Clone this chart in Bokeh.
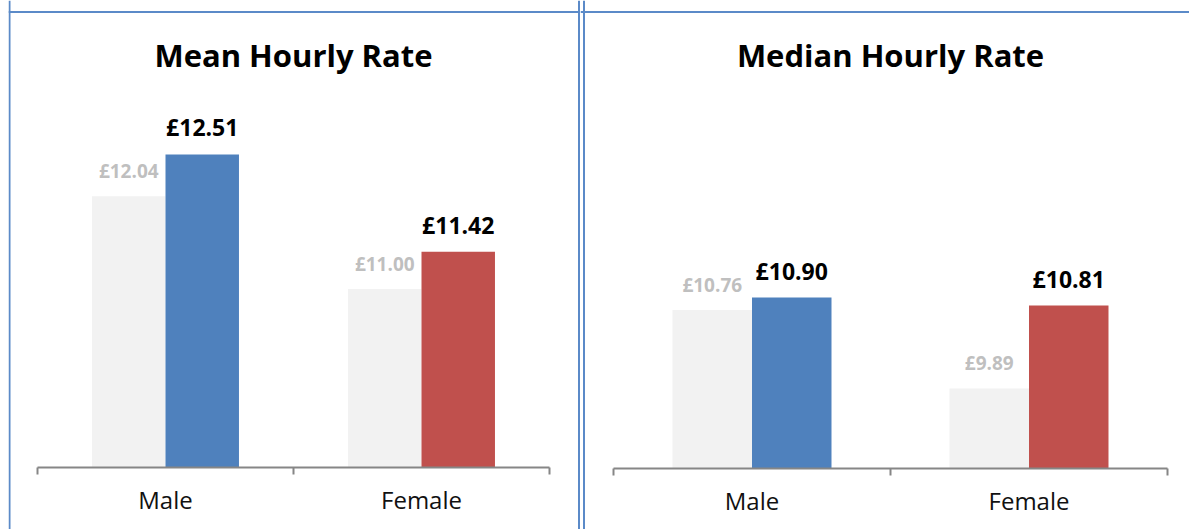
from bokeh.plotting import figure
from bokeh.models import Range1d, LinearAxis, FixedTicker, Span, ColumnDataSource, Spacer
from bokeh.layouts import row
from bokeh.embed import file_html
from bokeh.resources import INLINE
from bokeh.core.properties import value

# ---- data ----
categories = ["Male", "Female"]
mean_previous = [12.04, 11.00]
mean_current = [12.51, 11.42]
median_previous = [10.76, 9.89]
median_current = [10.90, 10.81]
current_colors = ["#4F81BD", "#C0504D"]
titles = ["Mean Hourly Rate", "Median Hourly Rate"]
axis_min = 9.0

FONT = value("Open Sans")
BORDER = "#5B8AC8"
HEIGHT = 529


def panel(title, prev, curr, width, x0_px, xs, base_px, ys, borders):
    x_start = -x0_px / xs
    x_end = x_start + width / xs
    y_start = axis_min - (HEIGHT - base_px) / ys
    y_end = axis_min + base_px / ys
    p = figure(width=width, height=HEIGHT,
               x_range=Range1d(x_start, x_end), y_range=Range1d(y_start, y_end),
               output_backend="svg", toolbar_location=None,
               x_axis_location=None, y_axis_location=None, min_border=0)
    p.min_border_left = p.min_border_right = 0
    p.min_border_top = p.min_border_bottom = 0
    p.outline_line_color = None
    p.xgrid.visible = False
    p.ygrid.visible = False
    p.background_fill_color = "white"
    p.border_fill_color = "white"

    n = len(categories)
    centers = [i + 0.5 for i in range(n)]
    bw = 0.287
    src = ColumnDataSource(dict(
        xp=[c - bw / 2 for c in centers],
        xc=[c + bw / 2 for c in centers],
        prev=prev, curr=curr, color=current_colors,
        prev_lbl=[f"£{v:.2f}" for v in prev],
        curr_lbl=[f"£{v:.2f}" for v in curr],
    ))
    p.vbar(x="xp", top="prev", bottom=axis_min, width=bw,
           fill_color="#F2F2F2", line_color=None, source=src)
    p.vbar(x="xc", top="curr", bottom=axis_min, width=bw,
           fill_color="color", line_color=None, source=src)
    p.text(x="xp", y="prev", text="prev_lbl", source=src, y_offset=-25,
           text_align="center", text_baseline="alphabetic",
           text_font=FONT, text_font_style="bold", text_font_size="19px",
           text_color="#BFBFBF")
    p.text(x="xc", y="curr", text="curr_lbl", source=src, y_offset=-27,
           text_align="center", text_baseline="alphabetic",
           text_font=FONT, text_font_style="bold", text_font_size="23px",
           text_color="#000000")

    # title
    p.text(x=[n / 2], y=[y_end], text=[title], y_offset=54,
           text_align="center", text_baseline="alphabetic",
           text_font=FONT, text_font_style="bold", text_font_size="31px",
           text_color="#000000")

    ax = LinearAxis(ticker=FixedTicker(ticks=centers, minor_ticks=list(range(n + 1))),
                    fixed_location=axis_min, bounds=(0, n))
    ax.major_label_overrides = {c: lab for c, lab in zip(centers, categories)}
    ax.major_tick_in = 0
    ax.major_tick_out = 0
    ax.minor_tick_in = 0
    ax.minor_tick_out = 7
    ax.minor_tick_line_color = "#868686"
    ax.minor_tick_line_width = 2
    ax.axis_line_color = "#868686"
    ax.axis_line_width = 2
    ax.major_label_standoff = 8
    ax.major_label_text_font = "Open Sans"
    ax.major_label_text_font_size = "24px"
    ax.major_label_text_color = "#111111"
    p.add_layout(ax, "below")

    for kind, px in borders:
        if kind == "v":
            loc = x_start + px / xs
            p.add_layout(Span(location=loc, dimension="height",
                              line_color=BORDER, line_width=2))
        else:
            loc = y_end - px / ys
            p.add_layout(Span(location=loc, dimension="width",
                              line_color=BORDER, line_width=2))
    return p


p1 = panel(titles[0], mean_previous, mean_current, 572, 29, 256, 467, 89.2,
           [("v", 1), ("h", 11.5), ("v", 570.5)])
p2 = panel(titles[1], median_previous, median_current, 609, 33, 277, 468, 90,
           [("v", 3.5), ("h", 11.5)])

layout = row(Spacer(width=8, height=HEIGHT), p1, p2, spacing=0)
open("out.html", "w").write(file_html(layout, INLINE))
